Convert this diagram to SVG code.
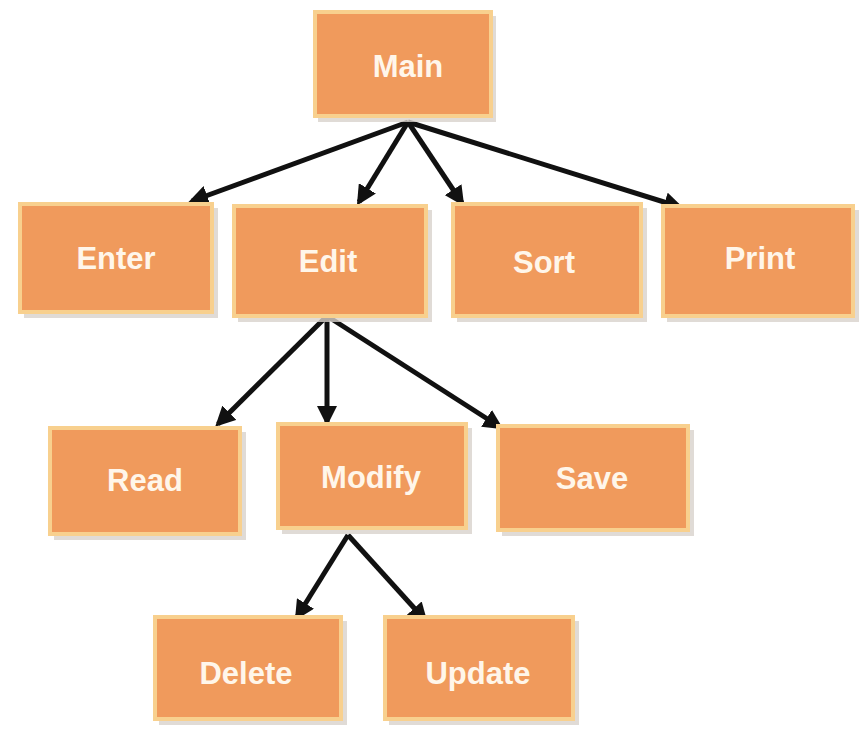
<svg xmlns="http://www.w3.org/2000/svg" width="867" height="730" viewBox="0 0 867 730">
<defs>
<style>
.box{fill:#f09a5c;stroke:#f8d08e;stroke-width:4}
.shadow{fill:#d8d2cc;opacity:0.8}
.lbl{font-family:"Liberation Sans",Arial,sans-serif;font-size:31px;font-weight:bold;fill:#fff6ea;text-anchor:middle;dominant-baseline:central}
.edge{stroke:#111;stroke-width:5;fill:none;marker-end:url(#ah)}
</style>
<marker id="ah" viewBox="0 0 10 10" refX="8" refY="5" markerWidth="4" markerHeight="4" orient="auto" markerUnits="strokeWidth">
<path d="M0,0 L10,5 L0,10 z" fill="#111"/>
</marker>
</defs>
<rect width="867" height="730" fill="#ffffff"/>
<g id="connectors">
<line class="edge" x1="408" y1="122" x2="192" y2="201"/>
<line class="edge" x1="408" y1="122" x2="359" y2="202"/>
<line class="edge" x1="408" y1="122" x2="462" y2="203"/>
<line class="edge" x1="408" y1="122" x2="680" y2="207"/>
<line class="edge" x1="327" y1="316" x2="218" y2="424"/>
<line class="edge" x1="327" y1="316" x2="327" y2="422"/>
<line class="edge" x1="327" y1="316" x2="500" y2="427"/>
<line class="edge" x1="348" y1="535" x2="297" y2="617"/>
<line class="edge" x1="348" y1="535" x2="425" y2="620"/>
</g>
<g id="main"><rect class="shadow" x="318" y="16" width="178" height="106"/><rect class="box" x="315" y="12" width="176" height="104"/><text class="lbl" x="408" y="66">Main</text></g>
<g id="enter"><rect class="shadow" x="24" y="208" width="194" height="110"/><rect class="box" x="20" y="204" width="192" height="108"/><text class="lbl" x="116" y="258">Enter</text></g>
<g id="edit"><rect class="shadow" x="238" y="210" width="194" height="112"/><rect class="box" x="234" y="206" width="192" height="110"/><text class="lbl" x="328" y="261">Edit</text></g>
<g id="sort"><rect class="shadow" x="457" y="208" width="190" height="114"/><rect class="box" x="453" y="204" width="188" height="112"/><text class="lbl" x="544" y="262">Sort</text></g>
<g id="print"><rect class="shadow" x="667" y="210" width="192" height="112"/><rect class="box" x="663" y="206" width="190" height="110"/><text class="lbl" x="760" y="258">Print</text></g>
<g id="read"><rect class="shadow" x="54" y="432" width="192" height="108"/><rect class="box" x="50" y="428" width="190" height="106"/><text class="lbl" x="145" y="480">Read</text></g>
<g id="modify"><rect class="shadow" x="282" y="428" width="190" height="106"/><rect class="box" x="278" y="424" width="188" height="104"/><text class="lbl" x="371" y="477">Modify</text></g>
<g id="save"><rect class="shadow" x="502" y="430" width="192" height="106"/><rect class="box" x="498" y="426" width="190" height="104"/><text class="lbl" x="592" y="478">Save</text></g>
<g id="delete"><rect class="shadow" x="159" y="621" width="188" height="104"/><rect class="box" x="155" y="617" width="186" height="102"/><text class="lbl" x="246" y="673">Delete</text></g>
<g id="update"><rect class="shadow" x="389" y="621" width="190" height="104"/><rect class="box" x="385" y="617" width="188" height="102"/><text class="lbl" x="478" y="673">Update</text></g>
</svg>
